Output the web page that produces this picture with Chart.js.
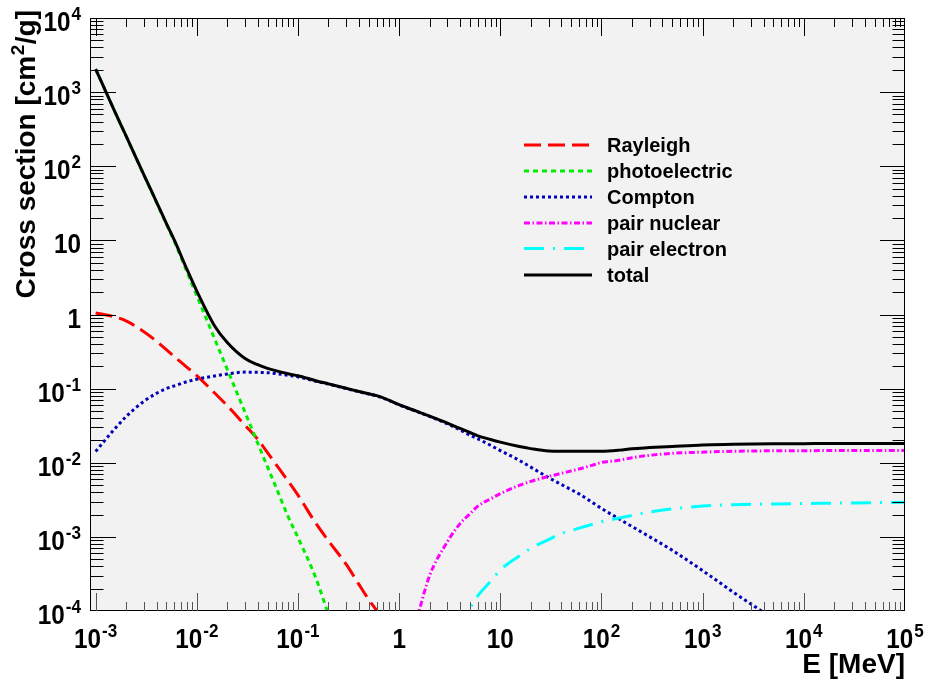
<!DOCTYPE html>
<html><head><meta charset="utf-8">
<script src="https://cdn.jsdelivr.net/npm/chart.js@4/dist/chart.umd.min.js"></script>
<style>html,body{margin:0;padding:0;background:#fff;}canvas{display:block;}</style>
</head><body>
<canvas id="c" width="928" height="682"></canvas>
<script>
// ---- data (energy in MeV, cross sections in cm^2/g) ----
const energy = [0.001, 0.0015, 0.002, 0.003, 0.004, 0.005, 0.006, 0.008, 0.01, 0.015, 0.02, 0.03, 0.04, 0.05, 0.06, 0.08, 0.1, 0.15, 0.2, 0.3, 0.4, 0.5, 0.6, 0.8, 1, 1.5, 2, 3, 4, 5, 6, 8, 10, 15, 20, 30, 40, 50, 60, 80, 100, 150, 200, 300, 500, 1000, 2000, 5000, 10000, 20000, 50000, 100000];
const rayleigh = [1.05, 0.94, 0.82, 0.586, 0.435, 0.335, 0.27, 0.194, 0.150, 0.0873, 0.059, 0.032, 0.0207, 0.0137, 0.0097, 0.00565, 0.00365, 0.00153, 0.000885, 0.000425, 0.000229, 0.000143, 0.000101, 0.0000575, 0.000037,
  null, null, null, null, null, null, null, null, null, null, null, null, null, null, null, null, null, null, null, null, null, null, null, null, null, null, null];
const photoelectric = [2050, 600, 255, 76, 32.4, 16.6, 9.67, 3.73, 1.79, 0.47, 0.182, 0.0477, 0.0184, 0.0088, 0.00484, 0.00187, 0.00098, 0.00028, 0.000091, 0.000024,
  null, null, null, null, null, null, null, null, null, null, null, null, null, null, null, null, null, null, null, null, null, null, null, null, null, null, null, null, null, null, null, null];
const compton = [0.0142, 0.0274, 0.042, 0.0675, 0.0863, 0.100, 0.109, 0.124, 0.134, 0.148, 0.158, 0.167, 0.166, 0.164, 0.160, 0.151, 0.144, 0.126, 0.115, 0.100, 0.0910, 0.0845, 0.0797, 0.069, 0.0603, 0.0490, 0.0422, 0.0335, 0.0277, 0.0236, 0.0210, 0.0172, 0.0146, 0.0110, 0.00874, 0.0063, 0.0051, 0.00434, 0.0038, 0.00295, 0.00242, 0.00174, 0.00138, 0.0010, 0.00066, 0.00035, 0.00018, 0.000078, 0.00004,
  null, null, null];
const pairNuclear = [null, null, null, null, null, null, null, null, null, null, null, null, null, null, null, null, null, null, null, null, null, null, null, null, null,
  0.000079, 0.0003, 0.00086, 0.00151, 0.00204, 0.0026, 0.00325, 0.00383, 0.00488, 0.0056, 0.00653, 0.00719, 0.00775, 0.00824, 0.0092, 0.0101, 0.0108, 0.0117, 0.0126, 0.0134, 0.0139, 0.0143, 0.0145, 0.01455, 0.0146, 0.0146, 0.01466];
const pairElectron = [null, null, null, null, null, null, null, null, null, null, null, null, null, null, null, null, null, null, null, null, null, null, null, null, null, null, null, null,
  0.00005, 0.000107, 0.00016, 0.00025, 0.000356, 0.00054, 0.0007, 0.00092, 0.00111, 0.00121, 0.00131, 0.00147, 0.0016, 0.0018, 0.00195, 0.00217, 0.00239, 0.0026, 0.00272, 0.00278, 0.00282, 0.00285, 0.0029, 0.00293];
const total = [2050, 601, 256, 76.7, 32.9, 17.0, 10.05, 4.05, 2.07, 0.70, 0.42, 0.255, 0.21, 0.188, 0.175, 0.159, 0.149, 0.128, 0.116, 0.101, 0.0916, 0.0851, 0.0803, 0.0695, 0.0608, 0.0493, 0.0426, 0.0343, 0.029, 0.0256, 0.0231, 0.0206, 0.019, 0.0167, 0.0155, 0.0144, 0.0143, 0.0143, 0.0143, 0.0143, 0.0143, 0.0148, 0.0155, 0.016, 0.0166, 0.0174, 0.0177, 0.018, 0.0181, 0.0182, 0.0182, 0.0182];

const seriesNames = ["Rayleigh", "photoelectric", "Compton", "pair nuclear", "pair electron", "total"];
const xTickValues = [1e-3, 1e-2, 1e-1, 1, 10, 1e2, 1e3, 1e4, 1e5];
const xTickLabels = [["10","-3"],["10","-2"],["10","-1"],["1",""],["10",""],["10","2"],["10","3"],["10","4"],["10","5"]];
const yTickValues = [1e-4, 1e-3, 1e-2, 1e-1, 1, 10, 1e2, 1e3, 1e4];
const yTickLabels = [["10","-4"],["10","-3"],["10","-2"],["10","-1"],["1",""],["10",""],["10","2"],["10","3"],["10","4"]];
const xTitle = "E [MeV]";
const yTitleParts = ["Cross section [cm", "2", "/g]"];

// ---- helpers ----
const FONT = '"Liberation Sans", Arial, Helvetica, sans-serif';
function pts(arr) {
  const out = [];
  energy.forEach((e, i) => { if (arr[i] !== null) out.push({x: e, y: arr[i]}); });
  return out;
}
function txt(ctx, s, x, y, size, align, sx) {
  sx = sx || 1;
  ctx.save();
  ctx.font = 'bold ' + size + 'px ' + FONT;
  const w = ctx.measureText(s).width * sx;
  const x0 = align === 'center' ? x - w / 2 : (align === 'right' ? x - w : x);
  ctx.translate(x0, y);
  ctx.scale(sx, 1);
  ctx.textAlign = 'left';
  ctx.textBaseline = 'alphabetic';
  ctx.fillStyle = '#000';
  ctx.fillText(s, 0, 0);
  ctx.restore();
  return w;
}
function width(ctx, s, size, sx) {
  ctx.save(); ctx.font = 'bold ' + size + 'px ' + FONT;
  const w = ctx.measureText(s).width * (sx || 1); ctx.restore(); return w;
}

const BASE = 27, SUP = 19, SX = 0.9;

const styles = [
  {color: '#ff0000', dash: [17, 7]},
  {color: '#00ee00', dash: [5, 4]},
  {color: '#0000bb', dash: [3, 3]},
  {color: '#ff00ff', dash: [6, 2.5, 1.5, 2.5]},
  {color: '#00ffff', dash: [20, 9, 2, 9]},
  {color: '#000000', dash: []}
];
const seriesData = [rayleigh, photoelectric, compton, pairNuclear, pairElectron, total];

const rootFrame = {
  id: 'rootFrame',
  beforeDatasetsDraw(chart) {
    const {ctx, chartArea: a} = chart;
    ctx.save();
    ctx.fillStyle = 'rgb(242,242,242)';
    ctx.fillRect(a.left, a.top, a.right - a.left, a.bottom - a.top);
    ctx.restore();
  },
  afterDatasetsDraw(chart) {
    const {ctx, chartArea: a} = chart;
    const xs = chart.scales.x, ys = chart.scales.y;
    ctx.save();
    // frame
    ctx.strokeStyle = '#000'; ctx.lineWidth = 1;
    ctx.strokeRect(a.left - 0.5, a.top + 0.5, a.right - a.left, a.bottom - a.top - 1);
    // y ticks (left and right)
    for (let d = -4; d <= 4; d++) {
      for (let k = 1; k <= 9; k++) {
        const v = k * Math.pow(10, d);
        if (v < 1e-4 * 1.0001 || v > 1e4 * 0.9999) continue;
        const y = Math.round(ys.getPixelForValue(v)) + 0.5;
        const len = k === 1 ? 25 : 12.5;
        ctx.beginPath();
        ctx.moveTo(a.left, y); ctx.lineTo(a.left + len, y);
        ctx.moveTo(a.right, y); ctx.lineTo(a.right - len, y);
        ctx.stroke();
      }
    }
    // x ticks (bottom and top)
    for (let d = -4; d <= 5; d++) {
      for (let k = 1; k <= 9; k++) {
        const v = k * Math.pow(10, d);
        if (v <= xs.min * 1.001 || v >= xs.max * 0.999) continue;
        const x = Math.round(xs.getPixelForValue(v)) + 0.5;
        const len = k === 1 ? 18 : 9;
        ctx.strokeStyle = '#555';
        ctx.beginPath(); ctx.moveTo(x, a.bottom); ctx.lineTo(x, a.bottom - len); ctx.stroke();
        ctx.strokeStyle = '#000';
        ctx.beginPath(); ctx.moveTo(x, a.top); ctx.lineTo(x, a.top + len); ctx.stroke();
      }
    }
    // x tick labels
    xTickValues.forEach((v, i) => {
      const x = xs.getPixelForValue(v);
      const [b, s] = xTickLabels[i];
      const wb = width(ctx, b, BASE, SX), ws = s ? width(ctx, s, SUP, SX) + 1 : 0;
      const x0 = x - (wb + ws) / 2;
      txt(ctx, b, x0, 648, BASE, 'left', SX);
      if (s) txt(ctx, s, x0 + wb + 1, 637, SUP, 'left', SX);
    });
    // y tick labels
    yTickValues.forEach((v, i) => {
      const y = ys.getPixelForValue(v);
      const [b, s] = yTickLabels[i];
      const xr = 81;
      if (s) {
        const ws = width(ctx, s, SUP, SX);
        txt(ctx, s, xr - ws, y + 2, SUP, 'left', SX);
        txt(ctx, b, xr - ws - 1, y + 13, BASE, 'right', SX);
      } else {
        txt(ctx, b, xr, y + 13, BASE, 'right', SX);
      }
    });
    // axis titles
    txt(ctx, xTitle, 905, 673, 28, 'right', 1);
    const w1 = width(ctx, yTitleParts[0], 28), w2 = width(ctx, yTitleParts[1], 19), w3 = width(ctx, yTitleParts[2], 28);
    const W = w1 + w2 + w3 + 1;
    ctx.save();
    ctx.translate(35, 10 + W);
    ctx.rotate(-Math.PI / 2);
    txt(ctx, yTitleParts[0], 0, 0, 28, 'left', 1);
    txt(ctx, yTitleParts[1], w1 + 0.5, -11, 19, 'left', 1);
    txt(ctx, yTitleParts[2], w1 + w2 + 1, 0, 28, 'left', 1);
    ctx.restore();
    // legend
    const rowsY = [145, 171, 197, 223, 248.5, 275];
    chart.data.datasets.forEach((ds, i) => {
      const y = rowsY[i];
      ctx.save();
      ctx.strokeStyle = ds.borderColor; ctx.lineWidth = 3; ctx.setLineDash(ds.borderDash || []);
      ctx.lineCap = 'butt';
      ctx.beginPath(); ctx.moveTo(524, y); ctx.lineTo(592, y); ctx.stroke();
      ctx.restore();
      txt(ctx, ds.label, 607, y + 7, 20, 'left', 1);
    });
    ctx.restore();
  }
};

const datasets = seriesData.map((arr, i) => ({
  label: seriesNames[i],
  data: pts(arr),
  borderColor: styles[i].color,
  backgroundColor: styles[i].color,
  borderDash: styles[i].dash,
  borderWidth: 3,
  borderCapStyle: 'butt',
  pointRadius: 0,
  fill: false,
  cubicInterpolationMode: 'monotone',
  clip: 0,
  order: 6 - i
}));

new Chart(document.getElementById('c'), {
  type: 'line',
  data: {datasets},
  options: {
    responsive: false,
    animation: false,
    devicePixelRatio: 1,
    layout: {padding: {left: 91, right: 23, top: 18, bottom: 71}},
    plugins: {legend: {display: false}, tooltip: {enabled: false}},
    scales: {
      x: {type: 'logarithmic', min: 0.0009, max: 100000, display: false},
      y: {type: 'logarithmic', min: 1e-4, max: 1e4, display: false}
    }
  },
  plugins: [rootFrame]
});
</script>
</body></html>
